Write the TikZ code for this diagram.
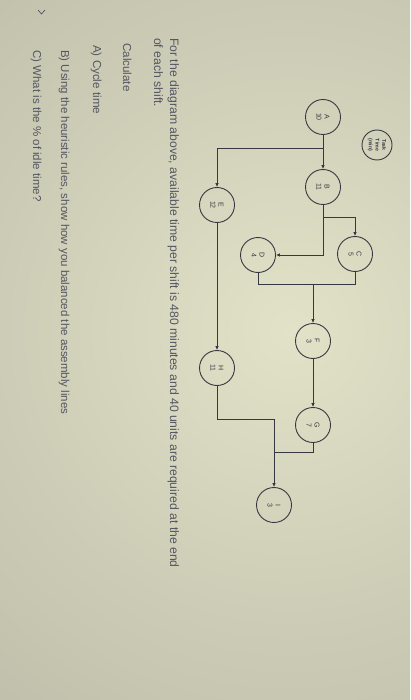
\documentclass[tikz,border=0pt]{standalone}
\usepackage{fontspec}
\setmainfont{Liberation Sans}
\usetikzlibrary{arrows.meta}
\definecolor{ink}{RGB}{55,55,66}
\definecolor{txt}{RGB}{84,86,98}
\definecolor{bgin}{RGB}{226,226,200}
\definecolor{bgout}{RGB}{160,160,146}
\begin{document}
\begin{tikzpicture}[x=1pt, y=-1pt,
  task/.style={circle, draw=ink, line width=0.9pt, minimum size=35pt, inner sep=0pt,
               font=\fontsize{7}{7.5}\selectfont, text=ink},
  conn/.style={draw=ink, line width=0.8pt},
  arr/.style={conn, -{Latex[length=4pt,width=3.6pt]}},
  qline/.style={rotate=-90, anchor=base west, text=txt, inner sep=0pt}]
\useasboundingbox (0,0) rectangle (410,700);
\begin{scope}
  \clip (0,0) rectangle (410,700);
  \shade[inner color=bgin, outer color=bgout] (290,330) circle (900);
\end{scope}

% legend
\node[task, minimum size=30pt, font=\fontsize{5.2}{5.6}\selectfont\bfseries] (tt) at (377,145)
  {\rotatebox{-90}{\shortstack{Task\\Time\\(min)}}};

% tasks
\node[task] (A) at (323,117) {\rotatebox{-90}{\shortstack{A\\10}}};
\node[task] (B) at (323,187) {\rotatebox{-90}{\shortstack{B\\11}}};
\node[task] (E) at (217,205) {\rotatebox{-90}{\shortstack{E\\12}}};
\node[task] (C) at (355,254) {\rotatebox{-90}{\shortstack{C\\5}}};
\node[task] (D) at (258,255) {\rotatebox{-90}{\shortstack{D\\4}}};
\node[task] (F) at (313,341) {\rotatebox{-90}{\shortstack{F\\3}}};
\node[task] (G) at (313,425) {\rotatebox{-90}{\shortstack{G\\7}}};
\node[task] (H) at (217,368) {\rotatebox{-90}{\shortstack{H\\11}}};
\node[task] (I) at (274,505) {\rotatebox{-90}{\shortstack{I\\3}}};

% junction points
\coordinate (ae) at (323,148);
\coordinate (bc) at (323,217);
\coordinate (bd) at (323,255);
\coordinate (fj) at (313,284);
\coordinate (hj) at (274,419);
\coordinate (gj) at (274,452);

% connectors
\draw[arr] (A.south) -- (B.north);
\draw[arr] (ae) -| (E.north);
\draw[arr] (B.south) -- (bc) -| (C.north);
\draw[arr] (bc) -- (bd) -- (D.east);
\draw[conn] (C.south) |- (fj);
\draw[conn] (D.south) |- (fj);
\draw[arr] (fj) -- (F.north);
\draw[arr] (F.south) -- (G.north);
\draw[arr] (E.south) -- (H.north);
\draw[arr] (H.south) |- (hj) -- (I.north);
\draw[conn] (G.south) |- (gj);

% question text
\node[qline, font=\fontsize{12.2}{14}\selectfont] (q1) at (170,38)
  {For the diagram above, available time per shift is 480 minutes and 40 units are required at the end};
\node[qline, font=\fontsize{12.2}{14}\selectfont] (q2) at (154,38) {of each shift.};
\node[qline, font=\fontsize{11.6}{14}\selectfont] (q3) at (123,43) {Calculate};
\node[qline, font=\fontsize{11.6}{14}\selectfont] (q4) at (93,45) {A) Cycle time};
\node[qline, font=\fontsize{11.5}{14}\selectfont] (q5) at (61,50)
  {B) Using the heuristic rules, show how you balanced the assembly lines};
\node[qline, font=\fontsize{11.5}{14}\selectfont] (q6) at (33,50) {C) What is the \% of idle time?};

% small chevron mark
\draw[txt, line width=0.7pt] (38,10) -- (41.5,14) -- (45,10);
\end{tikzpicture}
\end{document}
